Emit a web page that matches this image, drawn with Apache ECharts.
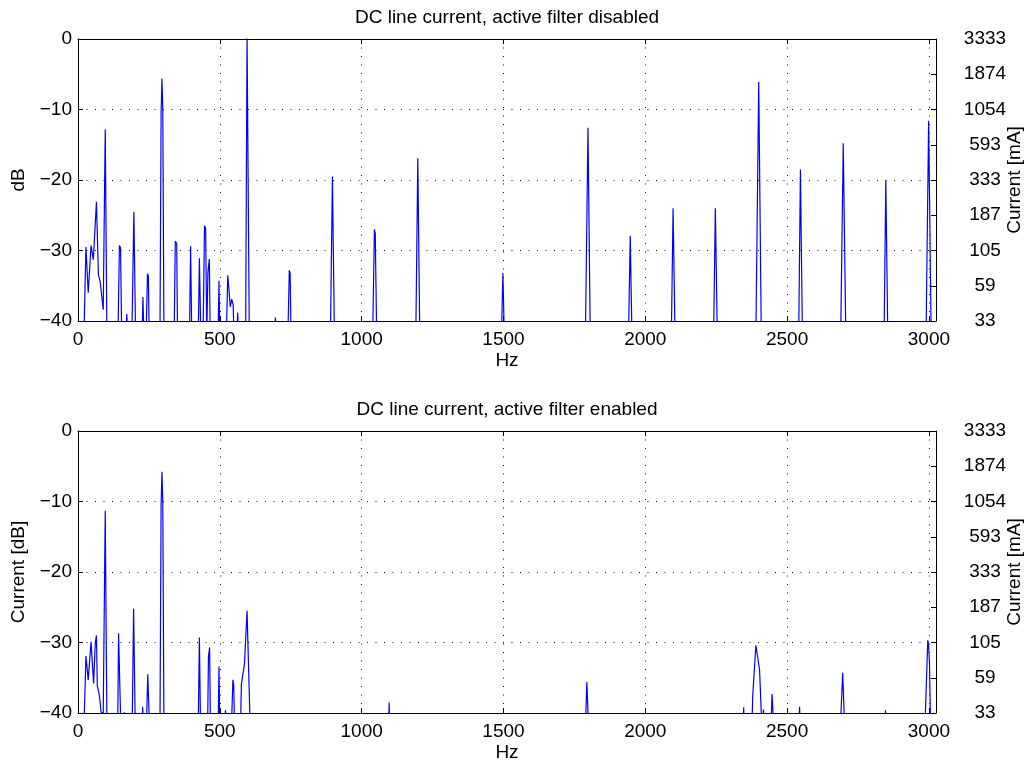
<!DOCTYPE html>
<html>
<head>
<meta charset="utf-8">
<title>DC line current</title>
<script src="https://cdn.jsdelivr.net/npm/echarts@6/dist/echarts.min.js"></script>
<style>
  html, body { margin: 0; padding: 0; background: #fff; overflow: hidden; }
  #chart { width: 1031px; height: 765px; }
</style>
</head>
<body>
<div id="chart"></div>
<script>
// spectrum, active filter disabled (Hz / dB)
const topHz = [21, 28, 36, 46, 49, 54, 58, 65, 72, 78, 81, 89, 96, 102,
  141, 146, 150, 154, 169, 172, 175, 190, 197, 203, 226, 229, 232,
  240, 245, 248, 251, 289, 293, 296, 299, 303, 339, 343, 348, 351,
  393, 397, 401, 424, 428, 433, 441, 446, 450, 454, 455, 458, 463, 466,
  494, 497, 500, 523, 528, 537, 542, 547, 550, 560, 563, 566,
  591, 596, 599, 604, 693, 696, 699, 740, 745, 748, 751,
  890, 897, 904, 1039, 1045, 1048, 1053, 1191, 1198, 1205,
  1493, 1498, 1503, 1789, 1798, 1806, 1941, 1947, 1953,
  2092, 2098, 2105, 2241, 2247, 2254, 2390, 2400, 2409,
  2541, 2547, 2554, 2689, 2698, 2707, 2842, 2848, 2855, 2990, 2999, 3008]
const topDb = [-42, -29.5, -36, -29.3, -29.5, -31.3, -31.5, -23.1, -33.5, -34.4, -34.6, -38.4, -12.8, -42,
  -42, -29.3, -29.6, -42, -42, -39, -42, -42, -24.5, -42, -42, -36.6, -42,
  -42, -33.3, -33.6, -42, -42, -10.5, -5.6, -10, -42, -42, -28.7, -29, -42,
  -42, -29.4, -42, -42, -31.1, -42, -42, -26.5, -26.8, -42, -42, -33.1, -31.2, -42,
  -42, -34.3, -42, -42, -33.5, -38, -36.9, -37.7, -42, -42, -38.8, -42,
  -42, 0.5, 0.5, -42, -42, -39.5, -42, -42, -32.8, -33.3, -42,
  -42, -19.5, -42, -42, -27, -27.6, -42, -42, -16.9, -42,
  -42, -33.2, -42, -42, -12.6, -42, -42, -27.9, -42,
  -42, -24, -42, -42, -24, -42, -42, -6.1, -42,
  -42, -18.5, -42, -42, -14.8, -42, -42, -20, -42, -42, -11.6, -42]

// spectrum, active filter enabled
const botHz = [21, 28, 36, 46, 49, 55, 61, 65, 68, 74, 78, 81, 87, 89, 96, 102,
  140, 143, 147, 151, 161, 163, 166, 191, 196, 202, 226, 228, 231,
  241, 246, 249, 252, 289, 293, 296, 299, 303,
  424, 428, 432, 457, 460, 464, 467, 494, 497, 500, 516, 520, 524,
  541, 546, 549, 552, 573, 576, 579, 587, 589, 596, 607,
  1095, 1097, 1099, 1789, 1794, 1800, 2345, 2347, 2349,
  2376, 2379, 2390, 2396, 2403, 2411, 2415, 2417, 2419,
  2443, 2447, 2450, 2453, 2541, 2544, 2547, 2688, 2696, 2703,
  2845, 2847, 2849, 2986, 2996, 2999, 3002, 3006]
const botDb = [-42, -31.9, -35.3, -29.9, -30.1, -35.8, -30, -29, -36.1, -37.2, -38.4, -39.9, -39.9, -40, -11.3, -42,
  -42, -28.7, -28.8, -42, -42, -39.9, -42, -42, -25.2, -42, -42, -39.1, -42,
  -42, -34.5, -34.6, -42, -42, -10.5, -5.8, -10.3, -42,
  -42, -29.3, -42, -42, -32, -30.7, -42, -42, -33.4, -42, -42, -39.6, -42,
  -42, -35.3, -36, -42, -42, -35.9, -35.8, -33, -32.8, -25.5, -42,
  -42, -38.5, -42, -42, -35.6, -42, -42, -39.2, -42,
  -42, -37.4, -30.4, -30.3, -33.9, -42, -42, -39.5, -42,
  -42, -37.3, -37.4, -42, -42, -39.1, -42, -42, -34.3, -42,
  -42, -39.6, -42, -42, -29.7, -30.5, -33, -42]

// right axis: current in mA for every 5 dB from -40 to 0
const mALabels = ['33', '59', '105', '187', '333', '593', '1054', '1874', '3333']
const titles = ['DC line current, active filter disabled', 'DC line current, active filter enabled']
const leftNames = ['dB', 'Current [dB]']

const FONT = '"Liberation Sans", Arial, Helvetica, sans-serif'
const FS = 19
const gridTops = [39, 431]
const gridH = 282
const gridLeft = 78
const gridRight = 95

const chart = echarts.init(document.getElementById('chart'), null, { renderer: 'canvas', width: 1031, height: 765 })

const txt = { color: '#000', fontFamily: FONT, fontSize: FS }
const dotted = { show: true, lineStyle: { color: '#111', width: 1, type: [1, 7.5] } }
const tick = { show: true, inside: true, length: 5, lineStyle: { color: '#000', width: 1 } }
const line = { show: true, onZero: false, lineStyle: { color: '#000', width: 1 } }

const grid = [], xAxis = [], yAxis = [], series = [], graphic = []

for (let i = 0; i < 2; i++) {
  // outerBoundsMode none: keep the plot box where it is, labels may reach the edge
  grid.push({ left: gridLeft, right: gridRight, top: gridTops[i], height: gridH, containLabel: false, outerBoundsMode: 'none' })
  xAxis.push({
    type: 'value', gridIndex: i, min: 0, max: 3025, interval: 500,
    axisLine: line, axisTick: tick, splitLine: dotted,
    axisLabel: Object.assign({ margin: 9, showMaxLabel: false, formatter: v => String(v) }, txt),
    name: 'Hz', nameLocation: 'middle', nameGap: 30, nameTextStyle: txt
  })
  xAxis.push({
    type: 'value', gridIndex: i, position: 'top', min: 0, max: 3025, interval: 500,
    axisLine: line, axisTick: tick, splitLine: { show: false }, axisLabel: { show: false }
  })
  yAxis.push({
    type: 'value', gridIndex: i, position: 'left', min: -40, max: 0, interval: 10,
    axisLine: line, axisTick: tick, splitLine: dotted,
    axisLabel: Object.assign({ margin: 6, formatter: v => String(v).replace('-', '\u2212') }, txt),
    name: leftNames[i], nameLocation: 'middle', nameGap: 50, nameRotate: 90, nameTextStyle: txt
  })
  yAxis.push({
    type: 'value', gridIndex: i, position: 'right', min: -40, max: 0, interval: 5,
    axisLine: line, axisTick: tick, splitLine: { show: false },
    axisLabel: Object.assign({ margin: 49, align: 'center', formatter: v => mALabels[Math.round((v + 40) / 5)] }, txt),
    name: 'Current [mA]', nameLocation: 'middle', nameGap: 69, nameRotate: 90, nameMoveOverlap: false, nameTextStyle: txt
  })
  const hz = i === 0 ? topHz : botHz
  const db = i === 0 ? topDb : botDb
  series.push({
    type: 'line', xAxisIndex: i * 2, yAxisIndex: i * 2,
    data: hz.map((f, k) => [f, db[k]]),
    symbol: 'none', clip: true, animation: false,
    lineStyle: { color: '#0000ff', width: 1.2 }
  })
  graphic.push({
    type: 'text', x: 507, y: gridTops[i] - 21,
    style: { text: titles[i], fill: '#000', font: FS + 'px ' + FONT, textAlign: 'center', textVerticalAlign: 'middle' }
  })
}

chart.setOption({
  backgroundColor: '#fff',
  animation: false,
  grid, xAxis, yAxis, series, graphic
})
</script>
</body>
</html>
